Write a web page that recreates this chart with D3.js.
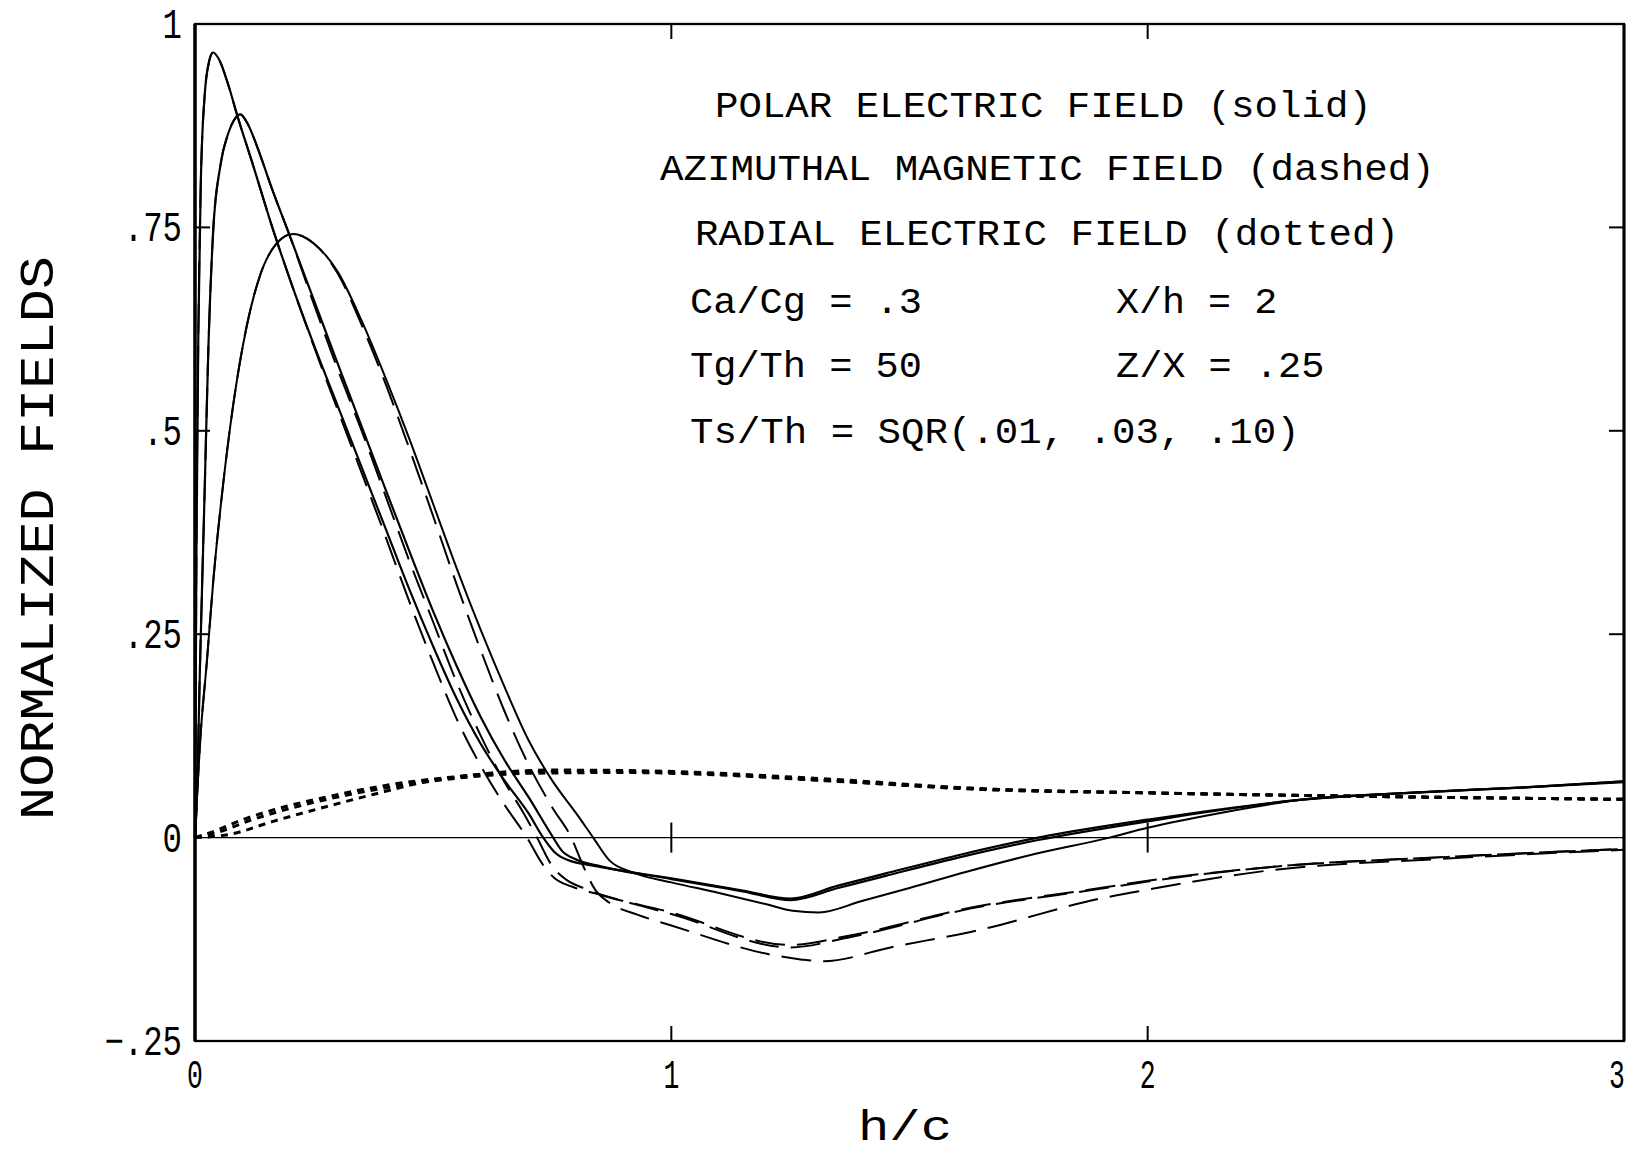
<!DOCTYPE html>
<html>
<head>
<meta charset="utf-8">
<script src="https://cdn.jsdelivr.net/npm/d3@7"></script>
<style>
	body { margin: 0; background: #fff; }
	svg { display: block; }
	text { font-family: "Liberation Mono", "DejaVu Sans Mono", monospace; fill: #000; }
</style>
</head>
<body>
<svg id="chart" width="1638" height="1155"></svg>
<script>
"use strict";

// h/c vs normalized field, three Ts/Th values (a = .01, b = .03, c = .10)
const polarA = [[0,0],[0.003,0.35],[0.007,0.62],[0.012,0.8],[0.02,0.91],[0.03,0.955],[0.038,0.965],[0.05,0.957],[0.07,0.925],[0.088,0.889],[0.12,0.83],[0.164,0.747],[0.2,0.685],[0.25,0.605],[0.3,0.53],[0.35,0.455],[0.4,0.38],[0.45,0.305],[0.5,0.235],[0.55,0.17],[0.6,0.115],[0.65,0.07],[0.7,0.03],[0.731,0],[0.755,-0.018],[0.78,-0.027],[0.85,-0.036],[1.0,-0.05],[1.15,-0.065],[1.25,-0.075],[1.35,-0.059],[1.45,-0.044],[1.6,-0.022],[1.77,0],[2.0,0.022],[2.33,0.047],[2.55,0.055],[2.8,0.062],[3.0,0.069]];
const polarB = [[0,0],[0.004,0.05],[0.01,0.2],[0.02,0.42],[0.028,0.6],[0.038,0.744],[0.053,0.825],[0.07,0.866],[0.082,0.882],[0.095,0.889],[0.11,0.878],[0.13,0.85],[0.16,0.8],[0.2,0.738],[0.25,0.66],[0.3,0.582],[0.35,0.505],[0.4,0.428],[0.45,0.352],[0.5,0.278],[0.55,0.21],[0.6,0.148],[0.65,0.095],[0.7,0.05],[0.752,0],[0.77,-0.016],[0.8,-0.027],[0.85,-0.035],[1.0,-0.051],[1.15,-0.066],[1.25,-0.077],[1.35,-0.062],[1.45,-0.047],[1.6,-0.025],[1.77,-0.003],[2.0,0.02],[2.33,0.047],[2.55,0.055],[2.8,0.062],[3.0,0.069]];
const polarC = [[0,0],[0.004,0.048],[0.011,0.12],[0.025,0.217],[0.038,0.313],[0.059,0.434],[0.08,0.531],[0.108,0.627],[0.136,0.69],[0.171,0.73],[0.206,0.742],[0.25,0.73],[0.3,0.695],[0.35,0.635],[0.4,0.565],[0.45,0.49],[0.5,0.41],[0.55,0.33],[0.6,0.255],[0.65,0.185],[0.7,0.12],[0.75,0.07],[0.8,0.03],[0.836,0],[0.87,-0.028],[0.92,-0.043],[1.0,-0.055],[1.1,-0.068],[1.2,-0.082],[1.255,-0.09],[1.31,-0.092],[1.4,-0.078],[1.5,-0.062],[1.62,-0.042],[1.75,-0.022],[1.92,0],[2.0,0.012],[2.15,0.03],[2.33,0.047],[2.55,0.055],[2.8,0.062],[3.0,0.068]];

const azimA = [[0,0],[0.003,0.35],[0.007,0.62],[0.012,0.8],[0.02,0.91],[0.03,0.955],[0.038,0.965],[0.05,0.957],[0.07,0.925],[0.088,0.889],[0.12,0.83],[0.164,0.747],[0.2,0.685],[0.25,0.603],[0.3,0.525],[0.35,0.448],[0.4,0.37],[0.45,0.29],[0.5,0.215],[0.55,0.145],[0.6,0.088],[0.65,0.04],[0.697,0],[0.73,-0.033],[0.755,-0.05],[0.79,-0.06],[0.85,-0.07],[1.0,-0.094],[1.25,-0.135],[1.37,-0.123],[1.63,-0.087],[1.9,-0.063],[2.0,-0.054],[2.26,-0.036],[2.62,-0.024],[3.0,-0.014]];
const azimB = [[0,0],[0.004,0.05],[0.01,0.2],[0.02,0.42],[0.028,0.6],[0.038,0.744],[0.053,0.825],[0.07,0.866],[0.082,0.882],[0.095,0.889],[0.11,0.878],[0.13,0.85],[0.16,0.8],[0.2,0.738],[0.25,0.655],[0.3,0.575],[0.35,0.5],[0.4,0.42],[0.45,0.34],[0.5,0.265],[0.55,0.19],[0.6,0.125],[0.65,0.068],[0.69,0.03],[0.718,0],[0.75,-0.035],[0.78,-0.052],[0.82,-0.063],[1.0,-0.092],[1.25,-0.132],[1.37,-0.121],[1.63,-0.086],[1.9,-0.062],[2.0,-0.053],[2.26,-0.036],[2.62,-0.024],[3.0,-0.014]];
const azimC = [[0,0],[0.004,0.048],[0.011,0.12],[0.025,0.217],[0.038,0.313],[0.059,0.434],[0.08,0.531],[0.108,0.627],[0.136,0.69],[0.171,0.73],[0.206,0.742],[0.25,0.73],[0.3,0.693],[0.35,0.63],[0.4,0.558],[0.45,0.478],[0.5,0.395],[0.55,0.31],[0.6,0.23],[0.65,0.155],[0.7,0.09],[0.75,0.037],[0.79,0],[0.815,-0.035],[0.84,-0.064],[0.87,-0.08],[0.93,-0.095],[1.0,-0.108],[1.21,-0.144],[1.275,-0.15],[1.32,-0.152],[1.46,-0.135],[1.65,-0.113],[1.9,-0.075],[2.0,-0.064],[2.26,-0.04],[2.62,-0.026],[3.0,-0.015]];

const radialA = [[0,0],[0.032,0.006],[0.1,0.022],[0.164,0.034],[0.269,0.049],[0.409,0.065],[0.55,0.075],[0.689,0.081],[0.85,0.082],[1.02,0.08],[1.306,0.071],[1.655,0.059],[2.0,0.055],[2.55,0.05],[3.0,0.047]];
const radialB = [[0,0],[0.05,0.007],[0.12,0.022],[0.2,0.036],[0.3,0.05],[0.42,0.063],[0.55,0.073],[0.7,0.079],[0.9,0.08],[1.1,0.077],[1.35,0.069],[1.7,0.059],[2.0,0.055],[2.55,0.05],[3.0,0.047]];
const radialC = [[0,0],[0.073,0.004],[0.164,0.02],[0.269,0.037],[0.374,0.053],[0.479,0.068],[0.6,0.078],[0.75,0.083],[0.95,0.082],[1.3,0.073],[1.655,0.06],[2.0,0.055],[2.55,0.05],[3.0,0.047]];

const xTicks = [0, 1, 2, 3];
const yTicks = [1, 0.75, 0.5, 0.25, 0, -0.25];
const legendLines = ["POLAR ELECTRIC FIELD (solid)", "AZIMUTHAL MAGNETIC FIELD (dashed)", "RADIAL ELECTRIC FIELD (dotted)"];
const paramLeft = ["Ca/Cg = .3", "Tg/Th = 50", "Ts/Th = SQR(.01, .03, .10)"];
const paramRight = ["X/h = 2", "Z/X = .25"];

const svg = d3.select("#chart");
const x = d3.scaleLinear().domain([0, 3]).range([195, 1624]);
const y = d3.scaleLinear().domain([-0.25, 1]).range([1041, 24]);

const line = d3.line()
	.x((d) => x(d[0]))
	.y((d) => y(d[1]))
	.curve(d3.curveMonotoneX);

// zero line
svg.append("line")
	.attr("x1", x(0)).attr("x2", x(3))
	.attr("y1", y(0)).attr("y2", y(0))
	.attr("stroke", "#000").attr("stroke-width", 1.3);

// curves
const series = [
	{ pts: radialA, dash: "7,6", w: 3 },
	{ pts: radialB, dash: "7,6", w: 3 },
	{ pts: radialC, dash: "7,6", w: 3 },
	{ pts: azimA, dash: "30,12", w: 2 },
	{ pts: azimB, dash: "30,12", w: 2 },
	{ pts: azimC, dash: "30,12", w: 2 },
	{ pts: polarA, dash: null, w: 2.2 },
	{ pts: polarB, dash: null, w: 2.2 },
	{ pts: polarC, dash: null, w: 2 },
];
svg.append("g")
	.selectAll("path")
	.data(series)
	.join("path")
	.attr("d", (d) => line(d.pts))
	.attr("fill", "none")
	.attr("stroke", "#000")
	.attr("stroke-width", (d) => d.w)
	.attr("stroke-dasharray", (d) => d.dash);

// frame
svg.append("rect")
	.attr("x", x(0)).attr("y", y(1))
	.attr("width", x(3) - x(0)).attr("height", y(-0.25) - y(1))
	.attr("fill", "none").attr("stroke", "#000").attr("stroke-width", 2.3);
svg.append("line")
	.attr("x1", x(0)).attr("x2", x(0)).attr("y1", y(1)).attr("y2", y(-0.25))
	.attr("stroke", "#000").attr("stroke-width", 3.5);
svg.append("line")
	.attr("x1", x(3)).attr("x2", x(3)).attr("y1", y(1)).attr("y2", y(-0.25))
	.attr("stroke", "#000").attr("stroke-width", 3);

// inner ticks
const tk = svg.append("g").attr("stroke", "#000").attr("stroke-width", 2);
[0.75, 0.5, 0.25].forEach((v) => {
	tk.append("line").attr("x1", x(0)).attr("x2", x(0) + 15).attr("y1", y(v)).attr("y2", y(v));
	tk.append("line").attr("x1", x(3)).attr("x2", x(3) - 15).attr("y1", y(v)).attr("y2", y(v));
});
[1, 2].forEach((v) => {
	tk.append("line").attr("x1", x(v)).attr("x2", x(v)).attr("y1", y(-0.25)).attr("y2", y(-0.25) - 15);
	tk.append("line").attr("x1", x(v)).attr("x2", x(v)).attr("y1", y(1)).attr("y2", y(1) + 15);
	tk.append("line").attr("x1", x(v)).attr("x2", x(v)).attr("y1", y(0) - 15).attr("y2", y(0) + 15);
});

function fmt(v) {
	if (v === 0 || v === 1) return String(v);
	return d3.format(".2~f")(v).replace("0.", ".");
}

// tick labels, squeezed horizontally like the plotter font
svg.append("g")
	.selectAll("text")
	.data(yTicks)
	.join("text")
	.attr("transform", (d) => `translate(182,${y(d) + 14}) scale(0.77,1)`)
	.attr("text-anchor", "end")
	.attr("font-size", 42)
	.text(fmt);

svg.append("g")
	.selectAll("text")
	.data(xTicks)
	.join("text")
	.attr("transform", (d) => `translate(${d === 3 ? x(d) - 7 : x(d)},1088) scale(0.66,1)`)
	.attr("text-anchor", "middle")
	.attr("font-size", 40)
	.text((d) => d);

// axis titles
svg.append("text")
	.attr("transform", "translate(53,538) rotate(-90)")
	.attr("text-anchor", "middle")
	.attr("font-size", 49)
	.attr("textLength", 564)
	.attr("lengthAdjust", "spacingAndGlyphs")
	.text("NORMALIZED FIELDS");

svg.append("text")
	.attr("x", 858).attr("y", 1140)
	.attr("font-size", 42)
	.attr("textLength", 94)
	.attr("lengthAdjust", "spacingAndGlyphs")
	.text("h/c");

// annotation block
const pitch = 23.6;
const legendX = [715, 660, 695];
const legendY = [117, 180, 245];
svg.append("g")
	.selectAll("text")
	.data(legendLines)
	.join("text")
	.attr("x", (d, i) => legendX[i])
	.attr("y", (d, i) => legendY[i])
	.attr("font-size", 37)
	.attr("textLength", (d) => d.length * pitch - 4)
	.attr("lengthAdjust", "spacingAndGlyphs")
	.text((d) => d);

const paramY = [313, 377, 443];
svg.append("g")
	.selectAll("text")
	.data(paramLeft)
	.join("text")
	.attr("x", 690)
	.attr("y", (d, i) => paramY[i])
	.attr("font-size", 37)
	.attr("textLength", (d) => d.length * pitch - 4)
	.attr("lengthAdjust", "spacingAndGlyphs")
	.text((d) => d);

svg.append("g")
	.selectAll("text")
	.data(paramRight)
	.join("text")
	.attr("x", 1116)
	.attr("y", (d, i) => paramY[i])
	.attr("font-size", 37)
	.attr("textLength", (d) => d.length * pitch - 4)
	.attr("lengthAdjust", "spacingAndGlyphs")
	.text((d) => d);
</script>
</body>
</html>
